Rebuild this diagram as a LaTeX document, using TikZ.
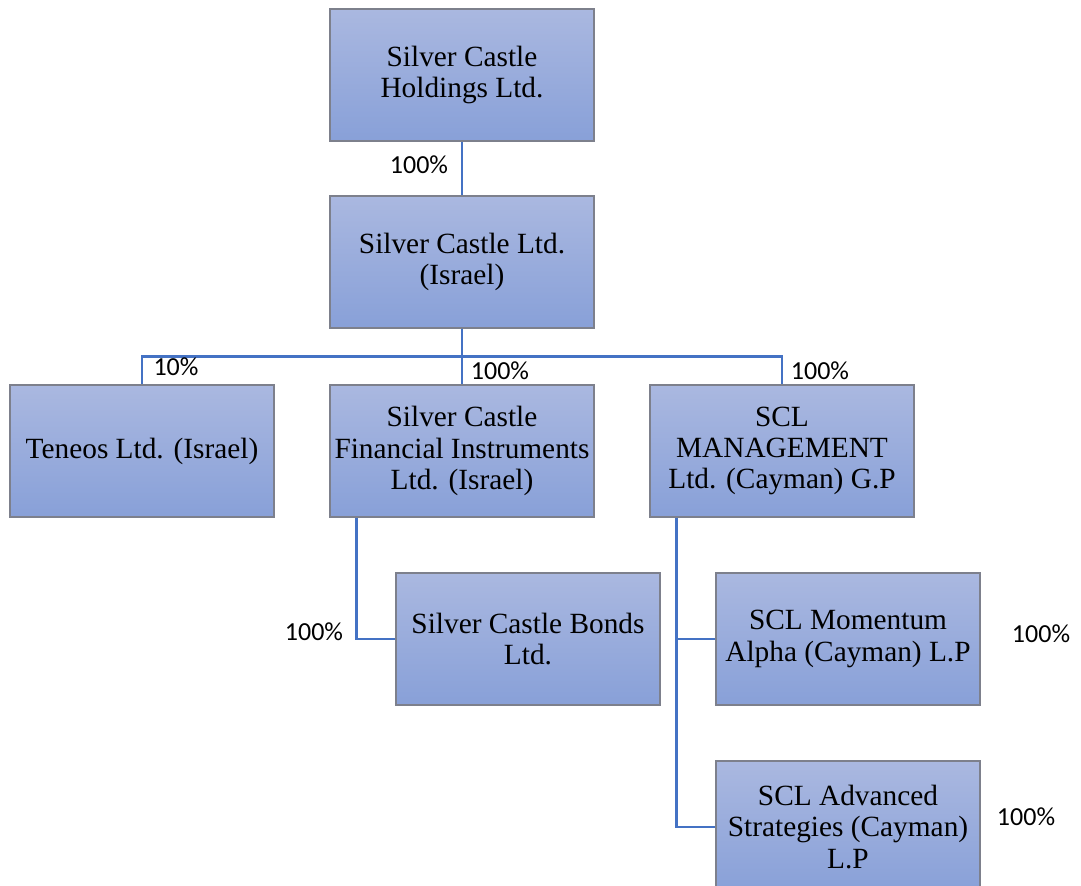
\documentclass[tikz,border=0pt]{standalone}
\usepackage{fontspec}
\setmainfont{Liberation Serif}
\newfontfamily\pctfont{Carlito}
\usetikzlibrary{positioning}
\definecolor{boxtop}{RGB}{170,184,224}
\definecolor{boxbottom}{RGB}{136,160,216}
\definecolor{boxline}{RGB}{125,128,140}
\definecolor{linkblue}{RGB}{68,114,196}

\begin{document}
\begin{tikzpicture}[x=0.75pt,y=-0.75pt,
  entity/.style={draw=boxline, line width=0.9pt, top color=boxtop, bottom color=boxbottom,
    minimum width=198pt, minimum height=99pt, inner sep=0pt, align=center,
    font=\fontsize{22}{23.5}\selectfont},
  link/.style={draw=linkblue, line width=1.9pt},
  share/.style={inner sep=0pt, font=\pctfont\fontsize{19.5}{21}\selectfont}]
\useasboundingbox (0,0) rectangle (1081,885);
% companies
\node[entity] (holdings) at (462,75) {Silver Castle\\Holdings Ltd.};
\node[entity] (israel) at (462,262) {Silver Castle Ltd.\\(Israel)};
\node[entity] (teneos) at (142,451) {Teneos Ltd. (Israel)};
\node[entity] (scfi) at (462,451) {Silver Castle\\Financial Instruments\\Ltd. (Israel)};
\node[entity] (mgmt) at (782,451) {SCL\\MANAGEMENT\\Ltd. (Cayman) G.P};
\node[entity] (bonds) at (528,639) {Silver Castle Bonds\\Ltd.};
\node[entity] (momentum) at (848,639) {SCL Momentum\\Alpha (Cayman) L.P};
\node[entity] (advanced) at (848,827) {SCL Advanced\\Strategies (Cayman)\\L.P};
% links
\draw[link] (holdings) -- (israel);
\draw[link] (israel) -- (scfi);
\draw[link] (israel.south) -- ++(0,28) -| (teneos.north);
\draw[link] (israel.south) -- ++(0,28) -| (mgmt.north);
\draw[link] ([xshift=20.25pt]scfi.south west) |- (bonds.west);
\draw[link] ([xshift=20.25pt]mgmt.south west) |- (momentum.west);
\draw[link] ([xshift=20.25pt]mgmt.south west) |- (advanced.west);
% shares
\node[share] (pct_holdings) at (419,165) {100\%};
\node[share] (pct_teneos) at (176,367) {10\%};
\node[share] (pct_scfi) at (500,371) {100\%};
\node[share] (pct_mgmt) at (820,371) {100\%};
\node[share] (pct_bonds) at (314,632) {100\%};
\node[share] (pct_momentum) at (1041,634) {100\%};
\node[share] (pct_advanced) at (1026,817) {100\%};
\end{tikzpicture}
\end{document}
